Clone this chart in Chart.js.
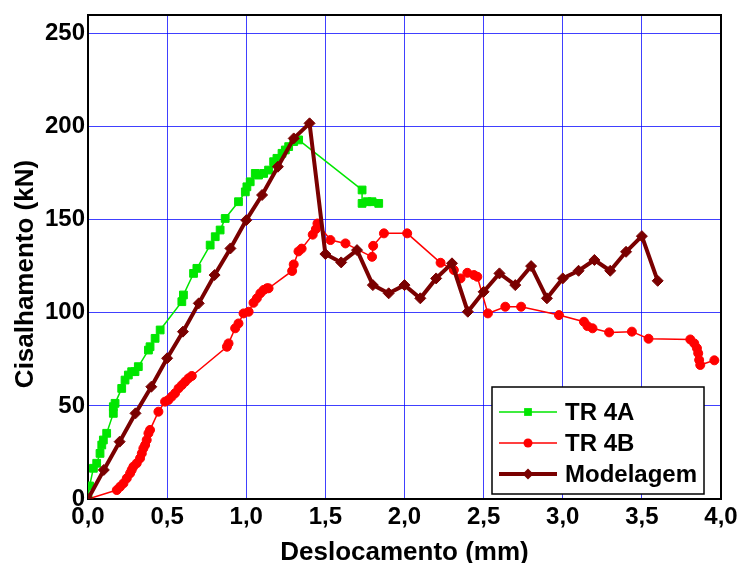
<!DOCTYPE html>
<html>
<head>
<meta charset="utf-8">
<script src="https://cdn.jsdelivr.net/npm/chart.js@4"></script>
<style>
  html, body { margin: 0; padding: 0; background: #fff; }
  #wrap { width: 739px; height: 563px; }
</style>
</head>
<body>
<div id="wrap"><canvas id="chart" width="739" height="563"></canvas></div>
<script>
// TR 4A (ensaio)
const tr4aX = [0.00, 0.01, 0.034, 0.055, 0.076, 0.087, 0.097, 0.118, 0.16, 0.16, 0.171, 0.213, 0.234, 0.255, 0.276, 0.297, 0.318,
  0.382, 0.392, 0.424, 0.456, 0.593, 0.603, 0.667, 0.688, 0.772, 0.804, 0.835, 0.867, 0.951, 0.994, 1.004, 1.025, 1.057,
  1.078, 1.11, 1.141, 1.173, 1.194, 1.226, 1.247, 1.268, 1.30, 1.331, 1.732, 1.732, 1.764, 1.795, 1.837];
const tr4aY = [0, 7, 16.5, 19.2, 24.5, 29, 31.7, 35.3, 46, 49.6, 51.4, 59.4, 63.9, 66.6, 68.4, 68.4, 71.1,
  80, 81.8, 86.3, 90.8, 106, 109.6, 121.2, 123.9, 136.4, 140.9, 144.5, 150.7, 159.7, 165, 167.7, 170.4, 174.9,
  174, 174.9, 176.7, 181.2, 183, 185.7, 187.5, 189.3, 192, 192.9, 166, 158.8, 159.7, 159.7, 158.8];

// TR 4B (ensaio)
const tr4bX = [0, 0.182, 0.203, 0.224, 0.245, 0.266, 0.276, 0.287, 0.308, 0.329, 0.34, 0.35, 0.361, 0.371, 0.382, 0.392,
  0.445, 0.487, 0.508, 0.529, 0.55, 0.572, 0.593, 0.614, 0.635, 0.656, 0.878, 0.888, 0.93, 0.951, 0.983, 1.015,
  1.046, 1.067, 1.089, 1.11, 1.131, 1.141, 1.29, 1.30, 1.33, 1.35, 1.42, 1.44, 1.45, 1.532, 1.627, 1.795, 1.802,
  1.87, 2.017, 2.228, 2.312, 2.354, 2.397, 2.439, 2.46, 2.527, 2.637, 2.737, 2.976, 3.134, 3.156, 3.188, 3.293,
  3.437, 3.542, 3.806, 3.831, 3.848, 3.856, 3.862, 3.869, 3.958];
const tr4bY = [0, 4.8, 6.6, 8.4, 11.1, 13.8, 15.6, 17.4, 19.2, 21.9, 24.5, 27.2, 29, 31.7, 35.3, 37.1,
  46.9, 52.3, 53.2, 55, 56.8, 59.4, 61.2, 63, 64.8, 66.1, 81.8, 83.6, 91.7, 94.3, 99.7, 100.6,
  105.4, 107.8, 110.5, 112.3, 113.2, 113.2, 122.5, 126, 133, 134.5, 142, 145, 148, 139.1, 137.3, 130.1, 136,
  142.7, 142.7, 126.9, 123, 118.5, 121.5, 120.3, 119.4, 99.7, 103.3, 103.3, 98.8, 95.2, 92.9, 91.7, 89.5,
  89.9, 86.1, 85.7, 83.6, 81, 78.3, 74.7, 72, 74.5];

// Modelagem
const modX = [0.0, 0.1, 0.2, 0.3, 0.4, 0.5, 0.6, 0.7, 0.8, 0.9, 1.0, 1.1, 1.2, 1.3, 1.4, 1.5, 1.6, 1.7, 1.8,
  1.9, 2.0, 2.1, 2.2, 2.3, 2.4, 2.5, 2.6, 2.7, 2.8, 2.9, 3.0, 3.1, 3.2, 3.3, 3.4, 3.5, 3.6];
const modY = [0, 15.6, 30.8, 46, 60.3, 75.6, 89.9, 105.1, 120.3, 134.6, 149.8, 163.3, 178.5, 193.7, 201.8,
  131.6, 127.1, 133.7, 114.9, 110.5, 114.9, 107.8, 118.5, 126.6, 100.6, 111.3, 121.2, 114.9, 125.1, 107.8,
  118.5, 122.6, 128.4, 122.6, 132.8, 141.2, 117.2];

const seriesLabels = ['TR 4A', 'TR 4B', 'Modelagem'];
const xTicks = [0, 0.5, 1.0, 1.5, 2.0, 2.5, 3.0, 3.5, 4.0];
const yTicks = [0, 50, 100, 150, 200, 250];
const xTitle = 'Deslocamento (mm)';
const yTitle = 'Cisalhamento (kN)';

const FONT = '"Liberation Sans", Arial, sans-serif';

function toPoints(xs, ys) {
  return xs.map((x, i) => ({ x: x, y: ys[i] }));
}

// moldura superior/direita
const framePlugin = {
  id: 'frame',
  afterDraw(chart) {
    const a = chart.chartArea;
    const ctx = chart.ctx;
    ctx.save();
    ctx.strokeStyle = '#000';
    ctx.lineWidth = 2;
    ctx.beginPath();
    ctx.moveTo(a.left, a.top);
    ctx.lineTo(a.right, a.top);
    ctx.lineTo(a.right, a.bottom);
    ctx.stroke();
    ctx.restore();
  }
};

// titulo do eixo y
const yTitlePlugin = {
  id: 'ytitle',
  afterDraw(chart) {
    const a = chart.chartArea;
    const ctx = chart.ctx;
    ctx.save();
    ctx.translate(26, (a.top + a.bottom) / 2 + 17);
    ctx.rotate(-Math.PI / 2);
    ctx.font = 'bold 26px ' + FONT;
    ctx.fillStyle = '#000';
    ctx.textAlign = 'center';
    ctx.textBaseline = 'middle';
    ctx.fillText(yTitle, 0, 0);
    ctx.restore();
  }
};

// legenda dentro da area do grafico
const legendBoxPlugin = {
  id: 'legendBox',
  afterDraw(chart) {
    const a = chart.chartArea;
    const ctx = chart.ctx;
    const w = 212, h = 107;
    const x0 = a.right - 17 - w;
    const y0 = a.bottom - 5 - h;
    ctx.save();
    ctx.fillStyle = '#fff';
    ctx.fillRect(x0, y0, w, h);
    ctx.strokeStyle = '#000';
    ctx.lineWidth = 1.5;
    ctx.strokeRect(x0, y0, w, h);
    chart.data.datasets.forEach((ds, i) => {
      const cy = y0 + 25 + i * 31;
      const lx1 = x0 + 7, lx2 = x0 + 65, mx = (lx1 + lx2) / 2;
      ctx.strokeStyle = ds.borderColor;
      ctx.lineWidth = ds.borderWidth;
      ctx.beginPath();
      ctx.moveTo(lx1, cy);
      ctx.lineTo(lx2, cy);
      ctx.stroke();
      ctx.fillStyle = ds.pointBackgroundColor;
      const r = ds.pointRadius;
      ctx.beginPath();
      if (ds.pointStyle === 'rect') {
        const s = r * Math.SQRT1_2;
        ctx.rect(mx - s, cy - s, 2 * s, 2 * s);
      } else if (ds.pointStyle === 'rectRot') {
        ctx.moveTo(mx, cy - r);
        ctx.lineTo(mx + r, cy);
        ctx.lineTo(mx, cy + r);
        ctx.lineTo(mx - r, cy);
        ctx.closePath();
      } else {
        ctx.arc(mx, cy, r, 0, Math.PI * 2);
      }
      ctx.fill();
      ctx.fillStyle = '#000';
      ctx.font = 'bold 24px ' + FONT;
      ctx.textAlign = 'left';
      ctx.textBaseline = 'middle';
      ctx.fillText(ds.label, x0 + 73, cy + 1);
    });
    ctx.restore();
  }
};

const ctx = document.getElementById('chart').getContext('2d');

new Chart(ctx, {
  type: 'scatter',
  data: {
    datasets: [{
      label: seriesLabels[0],
      data: toPoints(tr4aX, tr4aY),
      showLine: true,
      borderColor: '#00e600',
      backgroundColor: '#00e600',
      pointBackgroundColor: '#00e600',
      pointBorderColor: '#00e600',
      borderWidth: 1.5,
      pointStyle: 'rect',
      pointRadius: 5.5,
      pointBorderWidth: 1,
      order: 1
    }, {
      label: seriesLabels[1],
      data: toPoints(tr4bX, tr4bY),
      showLine: true,
      borderColor: '#ff0000',
      backgroundColor: '#ff0000',
      pointBackgroundColor: '#ff0000',
      pointBorderColor: '#ff0000',
      borderWidth: 1.5,
      pointStyle: 'circle',
      pointRadius: 4.5,
      pointBorderWidth: 1,
      order: 2
    }, {
      label: seriesLabels[2],
      data: toPoints(modX, modY),
      showLine: true,
      borderColor: '#7a0000',
      backgroundColor: '#7a0000',
      pointBackgroundColor: '#7a0000',
      pointBorderColor: '#7a0000',
      borderWidth: 4,
      pointStyle: 'rectRot',
      pointRadius: 5.5,
      pointBorderWidth: 1,
      order: 0
    }]
  },
  options: {
    responsive: false,
    animation: false,
    layout: {
      padding: { top: 15, right: 18, left: 0, bottom: 0 }
    },
    plugins: {
      legend: { display: false },
      tooltip: { enabled: false }
    },
    scales: {
      x: {
        type: 'linear',
        min: 0,
        max: 4,
        afterBuildTicks: (scale) => {
          scale.ticks = xTicks.map(v => ({ value: v }));
        },
        ticks: {
          padding: 4,
          color: '#000',
          font: { family: FONT, size: 24, weight: 'bold' },
          maxRotation: 0,
          autoSkip: false,
          callback: (v) => v.toFixed(1).replace('.', ',')
        },
        grid: {
          color: 'rgba(0,0,255,0.75)',
          lineWidth: 1,
          drawTicks: false
        },
        border: { color: '#000', width: 2 },
        title: {
          display: true,
          text: xTitle,
          color: '#000',
          font: { family: FONT, size: 26, weight: 'bold' },
          padding: { top: 13, bottom: -5 }
        },
        afterFit: (scale) => {
          scale.height = 64;
          scale.paddingLeft = 0;
          scale.paddingRight = 0;
        }
      },
      y: {
        type: 'linear',
        min: 0,
        max: 260,
        afterBuildTicks: (scale) => {
          scale.ticks = yTicks.map(v => ({ value: v }));
        },
        ticks: {
          padding: 3,
          color: '#000',
          autoSkip: false,
          font: { family: FONT, size: 24, weight: 'bold' }
        },
        grid: {
          color: 'rgba(0,0,255,0.75)',
          lineWidth: 1,
          drawTicks: false
        },
        border: { color: '#000', width: 2 },
        afterFit: (scale) => {
          scale.width = 88;
          scale.paddingTop = 0;
          scale.paddingBottom = 0;
        }
      }
    }
  },
  plugins: [framePlugin, yTitlePlugin, legendBoxPlugin]
});
</script>
</body>
</html>
